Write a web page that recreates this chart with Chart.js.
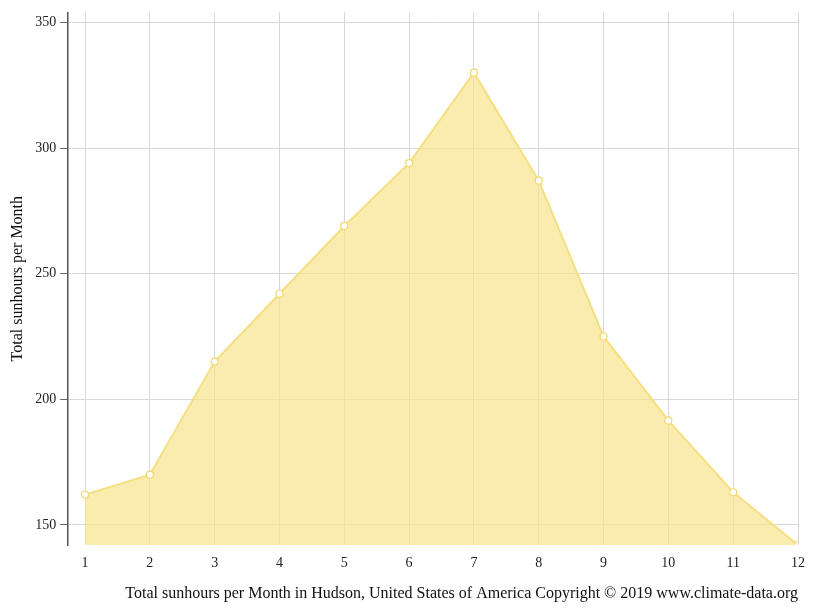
<!DOCTYPE html>
<html>
<head>
<meta charset="utf-8">
<script src="https://cdn.jsdelivr.net/npm/chart.js@4"></script>
<style>
  body { margin: 0; background: #fff; }
  #wrap { width: 815px; height: 611px; }
</style>
</head>
<body>
<div id="wrap"><canvas id="c"></canvas></div>
<script>
// months and sunhours
const months = [1, 2, 3, 4, 5, 6, 7, 8, 9, 10, 11, 12];
const sunhours = [162, 170, 215, 242, 269, 294, 330, 287, 225, 191.5, 163, 142];
const yTicks = [150, 200, 250, 300, 350];

const FONT = "'Liberation Serif', 'Times New Roman', serif";
Chart.defaults.font.family = FONT;
Chart.defaults.color = "#222";

new Chart(document.getElementById("c"), {
    type: "line",
    data: {
        datasets: [{
            data: months.map((m, i) => ({ x: m, y: sunhours[i] })),
            borderColor: "rgba(245,223,130,1)",
            backgroundColor: "rgba(247,228,140,0.7)",
            borderWidth: 2,
            fill: "start",
            tension: 0,
            pointRadius: 3.5,
            pointBackgroundColor: "#fff",
            pointBorderColor: "rgba(240,215,110,1)",
            pointBorderWidth: 1.2
        }]
    },
    options: {
        responsive: true,
        maintainAspectRatio: false,
        animation: false,
        layout: { padding: { top: 10, right: 14, left: 4, bottom: 4 } },
        plugins: { legend: { display: false }, tooltip: { enabled: false } },
        scales: {
            x: {
                type: "linear",
                min: 0.74,
                max: 12,
                afterBuildTicks: ax => { ax.ticks = months.map(v => ({ value: v })); },
                grid: { color: "#d8d8d8", drawTicks: false },
                border: { display: false },
                ticks: { padding: 10, font: { size: 14 }, color: "#222" },
                title: {
                    display: true,
                    text: "Total sunhours per Month in Hudson, United States of America Copyright © 2019 www.climate-data.org",
                    align: "end",
                    font: { size: 16 },
                    color: "#111",
                    padding: { top: 2 }
                }
            },
            y: {
                min: 142,
                max: 354,
                afterBuildTicks: ax => { ax.ticks = yTicks.map(v => ({ value: v })); },
                grid: { color: "#d8d8d8", tickLength: 8, tickColor: "#666" },
                border: { display: true, color: "#555", width: 1.5 },
                ticks: { padding: 4, font: { size: 14 }, color: "#222" },
                title: {
                    display: true,
                    text: "Total sunhours per Month",
                    font: { size: 16 },
                    color: "#111"
                }
            }
        }
    }
});
</script>
</body>
</html>
